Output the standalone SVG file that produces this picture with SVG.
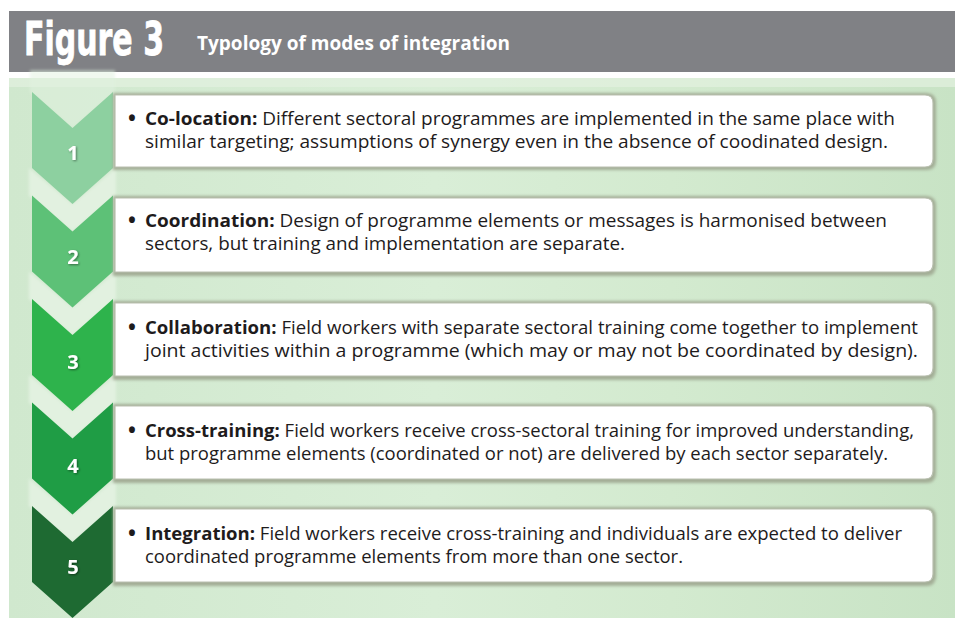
<svg xmlns="http://www.w3.org/2000/svg" width="958" height="619" viewBox="0 0 958 619">
<defs>
<linearGradient id="bg" x1="0" y1="0" x2="1" y2="0">
<stop offset="0" stop-color="#d0e8ce"/>
<stop offset="0.45" stop-color="#d9eed7"/>
<stop offset="0.7" stop-color="#d3eacf"/>
<stop offset="1" stop-color="#c8e3c5"/>
</linearGradient>
<filter id="sh" x="-5%" y="-20%" width="110%" height="150%">
<feGaussianBlur stdDeviation="1.5"/>
</filter>
<filter id="soft" x="-20%" y="-20%" width="140%" height="140%">
<feGaussianBlur stdDeviation="1.8"/>
</filter>
<filter id="tsh" x="-50%" y="-50%" width="200%" height="200%">
<feDropShadow dx="1" dy="1" stdDeviation="0.8" flood-color="#000" flood-opacity="0.45"/>
</filter>
</defs>
<style>
.body{font-family:"Open Sans","Noto Sans","DejaVu Sans",sans-serif;font-size:17.5px;fill:#1e1b1c}
.b{font-weight:bold}
.bul{font-family:"Open Sans","Noto Sans","DejaVu Sans",sans-serif;font-size:21px;font-weight:bold;fill:#1e1b1c}
.num{font-family:"Open Sans","Noto Sans","DejaVu Sans",sans-serif;font-size:20px;font-weight:bold;fill:#ffffff}
.band{fill:#e2f1e0}
.boxsh{fill:#a3ad96}
.box{fill:#ffffff;stroke:#b9c0b0;stroke-width:1.2}
</style>
<rect width="958" height="619" fill="#ffffff"/>
<g id="header">
<rect x="9" y="11" width="946" height="61" fill="#808185"/>
<text x="24" y="55" textLength="140" lengthAdjust="spacingAndGlyphs" style="font-family:'Liberation Sans Narrow','DejaVu Sans Condensed','Liberation Sans',sans-serif;font-size:47px;font-weight:bold;fill:#ffffff;stroke:#ffffff;stroke-width:0.8">Figure 3</text>
<text x="197" y="50" textLength="313" lengthAdjust="spacingAndGlyphs" style="font-family:'Open Sans','Noto Sans',sans-serif;font-size:20px;font-weight:bold;fill:#ffffff">Typology of modes of integration</text>
</g>
<g id="panel">
<rect x="9" y="78" width="946" height="540" fill="url(#bg)"/>
<rect x="9" y="78" width="946" height="9" fill="#e2f1df" opacity="0.7"/>
</g>
<g id="bands" filter="url(#soft)">
<path class="band" d="M30,70 L115,70 L115,92 L72.5,128 L30,92 Z" opacity="0.5"/>
<path class="band" d="M29,168 L72.5,204 L116,168 L116,195.5 L72.5,231.5 L29,195.5 Z"/>
<path class="band" d="M29,271.5 L72.5,307.5 L116,271.5 L116,299 L72.5,335 L29,299 Z"/>
<path class="band" d="M29,375 L72.5,411 L116,375 L116,402.5 L72.5,438.5 L29,402.5 Z"/>
<path class="band" d="M29,478.5 L72.5,514.5 L116,478.5 L116,506 L72.5,542 L29,506 Z"/>
</g>
<g id="connectors"></g>
<g id="step1">
<path d="M32,92 L72.5,128 L113,92 L113,168 L72.5,204 L32,168 Z" fill="#8dd0a0"/>
<text class="num" x="73" y="160" text-anchor="middle" filter="url(#tsh)">1</text>
<path class="boxsh" d="M113,93 H926 Q936,93 936,103 V161 Q936,170 926,170 H113 Z" filter="url(#sh)"/>
<path class="box" d="M115,95 H925 Q933,95 933,103 V159 Q933,167 925,167 H115 Z"/>
<text class="bul" x="128" y="126">•</text>
<text class="body" x="145" y="125" textLength="750" lengthAdjust="spacingAndGlyphs"><tspan class="b">Co-location:</tspan> Different sectoral programmes are implemented in the same place with</text>
<text class="body" x="145" y="148" textLength="743" lengthAdjust="spacingAndGlyphs">similar targeting; assumptions of synergy even in the absence of coodinated design.</text>
</g>
<g id="step2">
<path d="M32,195.5 L72.5,231.5 L113,195.5 L113,271.5 L72.5,307.5 L32,271.5 Z" fill="#5dc177"/>
<text class="num" x="73" y="264" text-anchor="middle" filter="url(#tsh)">2</text>
<path class="boxsh" d="M113,196 H926 Q936,196 936,206 V266 Q936,276 926,276 H113 Z" filter="url(#sh)"/>
<path class="box" d="M115,198 H925 Q933,198 933,206 V264 Q933,272 925,272 H115 Z"/>
<text class="bul" x="128" y="228">•</text>
<text class="body" x="145" y="227" textLength="742" lengthAdjust="spacingAndGlyphs"><tspan class="b">Coordination:</tspan> Design of programme elements or messages is harmonised between</text>
<text class="body" x="145" y="250" textLength="480" lengthAdjust="spacingAndGlyphs">sectors, but training and implementation are separate.</text>
</g>
<g id="step3">
<path d="M32,299 L72.5,335 L113,299 L113,375 L72.5,411 L32,375 Z" fill="#2eb34c"/>
<text class="num" x="73" y="369" text-anchor="middle" filter="url(#tsh)">3</text>
<path class="boxsh" d="M113,301 H926 Q936,301 936,311 V370 Q936,380 926,380 H113 Z" filter="url(#sh)"/>
<path class="box" d="M115,303 H925 Q933,303 933,311 V368 Q933,376 925,376 H115 Z"/>
<text class="bul" x="128" y="335">•</text>
<text class="body" x="145" y="334" textLength="773" lengthAdjust="spacingAndGlyphs"><tspan class="b">Collaboration:</tspan> Field workers with separate sectoral training come together to implement</text>
<text class="body" x="145" y="357" textLength="773" lengthAdjust="spacingAndGlyphs">joint activities within a programme (which may or may not be coordinated by design).</text>
</g>
<g id="step4">
<path d="M32,402.5 L72.5,438.5 L113,402.5 L113,478.5 L72.5,514.5 L32,478.5 Z" fill="#1f9d45"/>
<text class="num" x="73" y="473" text-anchor="middle" filter="url(#tsh)">4</text>
<path class="boxsh" d="M113,404 H926 Q936,404 936,414 V473 Q936,483 926,483 H113 Z" filter="url(#sh)"/>
<path class="box" d="M115,406 H925 Q933,406 933,414 V471 Q933,479 925,479 H115 Z"/>
<text class="bul" x="128" y="438">•</text>
<text class="body" x="145" y="437" textLength="769" lengthAdjust="spacingAndGlyphs"><tspan class="b">Cross-training:</tspan> Field workers receive cross-sectoral training for improved understanding,</text>
<text class="body" x="145" y="460" textLength="743" lengthAdjust="spacingAndGlyphs">but programme elements (coordinated or not) are delivered by each sector separately.</text>
</g>
<g id="step5">
<path d="M32,506 L72.5,542 L113,506 L113,582 L72.5,618 L32,582 Z" fill="#1e6a32"/>
<text class="num" x="73" y="574" text-anchor="middle" filter="url(#tsh)">5</text>
<path class="boxsh" d="M113,507 H926 Q936,507 936,517 V576 Q936,586 926,586 H113 Z" filter="url(#sh)"/>
<path class="box" d="M115,509 H925 Q933,509 933,517 V574 Q933,582 925,582 H115 Z"/>
<text class="bul" x="128" y="541">•</text>
<text class="body" x="145" y="540" textLength="757" lengthAdjust="spacingAndGlyphs"><tspan class="b">Integration:</tspan> Field workers receive cross-training and individuals are expected to deliver</text>
<text class="body" x="145" y="563" textLength="538" lengthAdjust="spacingAndGlyphs">coordinated programme elements from more than one sector.</text>
</g>
</svg>
